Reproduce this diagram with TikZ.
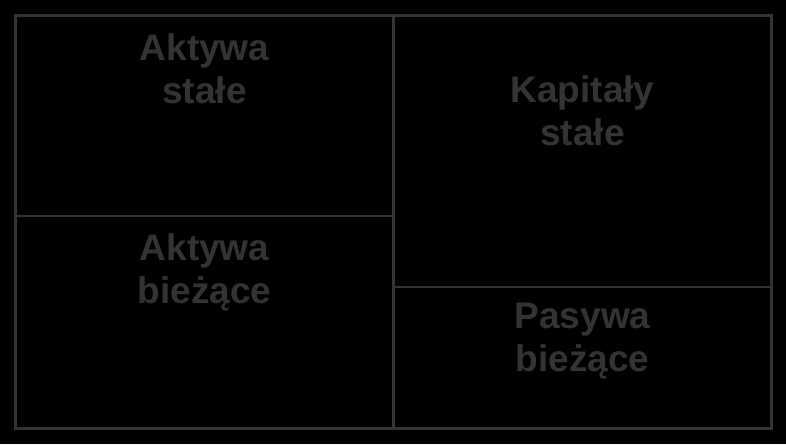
\documentclass[tikz,border=0pt]{standalone}
\usepackage{fontspec}
\setmainfont{Liberation Sans}
\definecolor{cellgray}{HTML}{333333}

\begin{document}
\begin{tikzpicture}[x=1pt, y=-1pt]
  % Background and size of the picture
  \fill[black] (0,0) rectangle (786,444);
  \useasboundingbox (0,0) rectangle (786,444);

  % Define the corners of the frame and the cuts
  \coordinate (topleft) at (15.5,15.5);
  \coordinate (bottomright) at (771.5,428.5);
  \coordinate (midtop) at (393.5,15.5);
  \coordinate (midbottom) at (393.5,428.5);
  \coordinate (leftcut) at (15.5,216);
  \coordinate (leftcutend) at (393.5,216);
  \coordinate (rightcut) at (393.5,287);
  \coordinate (rightcutend) at (771.5,287);

  % Draw the frame and the cells
  \draw[cellgray, line width=2.5pt] (topleft) rectangle (bottomright);
  \draw[cellgray, line width=2.5pt] (midtop) -- (midbottom);
  \draw[cellgray, line width=2.5pt] (leftcut) -- (leftcutend);
  \draw[cellgray, line width=2.5pt] (rightcut) -- (rightcutend);

  % Write the labels of the cells
  \foreach \name/\x/\y/\first/\second in {aktywastale/204.5/33/Aktywa/stałe,
      aktywabiezace/204.5/233/Aktywa/bieżące,
      kapitalystale/582.5/75/Kapitały/stałe,
      pasywabiezace/582.5/303/Pasywa/bieżące} {
    \node[anchor=north, align=center, inner sep=0pt, text=cellgray,
      font=\fontsize{37}{43}\selectfont\bfseries] (\name) at (\x,\y) {\first\\\second};
  }
\end{tikzpicture}
\end{document}
